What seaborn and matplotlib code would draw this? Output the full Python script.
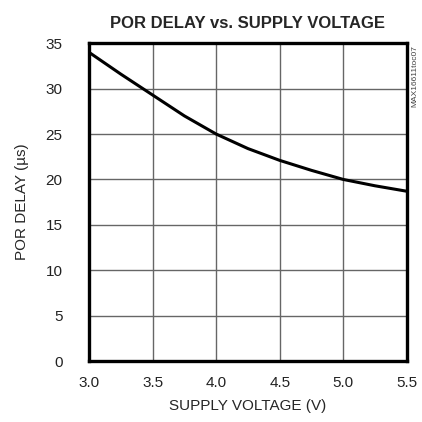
import numpy as np
import pandas as pd
import matplotlib
matplotlib.use("Agg")
import matplotlib.pyplot as plt
import seaborn as sns

voltage = [3.0, 3.25, 3.5, 3.75, 4.0, 4.25, 4.5, 4.75, 5.0, 5.25, 5.5]
delay = [34.0, 31.6, 29.3, 27.0, 25.0, 23.4, 22.1, 21.0, 20.0, 19.3, 18.7]

xticks = [3.0, 3.5, 4.0, 4.5, 5.0, 5.5]
yticks = [0, 5, 10, 15, 20, 25, 30, 35]

df = pd.DataFrame({"voltage": voltage, "delay": delay})

sns.set_style("white")
plt.rcParams['font.family'] = ['Liberation Sans', 'DejaVu Sans']

fig = plt.figure(figsize=(4.22, 4.22), dpi=100)
ax = fig.add_axes([0.211, 0.1445, 0.753, 0.753])

sns.lineplot(data=df, x="voltage", y="delay", ax=ax, color="black", linewidth=2.2)

ax.set_xlim(3.0, 5.5)
ax.set_ylim(0, 35)
ax.set_xticks(xticks)
ax.set_xticklabels([f"{t:.1f}" for t in xticks])
ax.set_yticks(yticks)
ax.grid(True, color="#666666", linewidth=1)
for s in ax.spines.values():
    s.set_visible(True)
    s.set_color("black")
    s.set_linewidth(2.4)
ax.tick_params(length=0, labelsize=11, colors="#222222")
ax.tick_params(axis="y", pad=19)
ax.tick_params(axis="x", pad=11)

ax.set_xlabel("SUPPLY VOLTAGE (V)", fontsize=11, labelpad=6)
ax.set_ylabel("POR DELAY (\u00b5s)", fontsize=11, labelpad=12)
ax.set_title("POR DELAY vs. SUPPLY VOLTAGE", fontsize=12, fontweight="bold", pad=11)

fig.text(0.983, 0.82, "MAX16611toc07", rotation=90, fontsize=6, color="#444444",
         ha="center", va="center")

fig.savefig("out.png", dpi=100)
